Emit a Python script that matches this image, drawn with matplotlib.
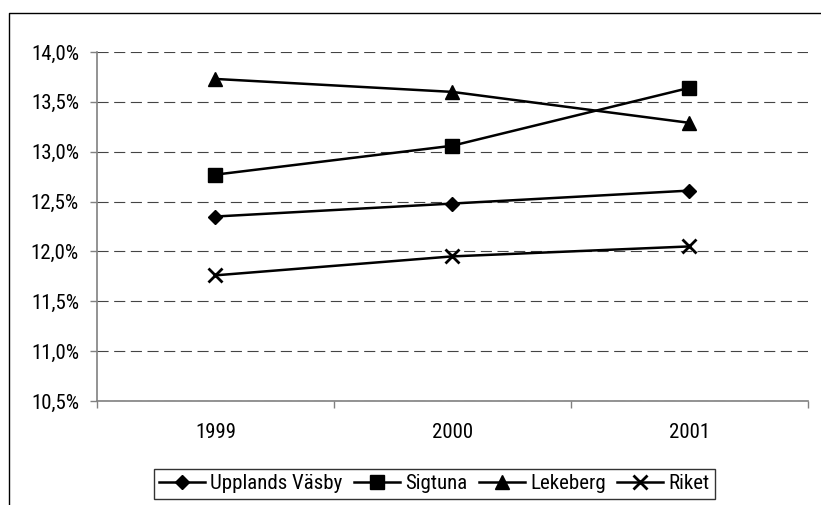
import matplotlib
matplotlib.use("Agg")
import matplotlib.pyplot as plt
from matplotlib import font_manager as fm
from matplotlib.lines import Line2D
from matplotlib.ticker import FuncFormatter, FixedLocator

# narrow font like the original; take the first one installed
available = {f.name for f in fm.fontManager.ttflist}
narrow = [n for n in ['Liberation Sans Narrow', 'Roboto Condensed', 'Archivo Narrow',
                      'Asap Condensed', 'Barlow Semi Condensed'] if n in available]
plt.rcParams['font.family'] = narrow[:1] + ['DejaVu Sans']

years = ['1999', '2000', '2001']
upplands_vasby = [12.35, 12.48, 12.61]
sigtuna = [12.77, 13.06, 13.64]
lekeberg = [13.73, 13.60, 13.29]
riket = [11.76, 11.95, 12.05]

series = [
    ('Upplands Väsby', upplands_vasby, 'D', 7.5),
    ('Sigtuna', sigtuna, 's', 10.5),
    ('Lekeberg', lekeberg, '^', 10.5),
    ('Riket', riket, 'x', 9.5),
]

FS = 15

fig = plt.figure(figsize=(8.21, 5.05), dpi=100)
ax = fig.add_axes([0.1181, 0.206, 0.8655, 0.691])

xs = list(range(1, len(years) + 1))
for name, vals, mk, ms in series:
    ax.plot(xs, vals, color='black', lw=1.8, marker=mk, ms=ms,
            mec='black', mfc='black', mew=2 if mk == 'x' else 1, label=name)

ax.set_xlim(0.5, len(years) + 0.5)
ax.set_ylim(10.5, 14.0)
ax.set_yticks([10.5 + 0.5 * i for i in range(8)])
ax.yaxis.set_major_formatter(FuncFormatter(lambda v, p: f'{v:.1f}%'.replace('.', ',')))
ax.yaxis.grid(True, color='#444444', lw=0.8, linestyle=(0, (10, 5)))
ax.set_axisbelow(True)

ax.xaxis.set_major_locator(FixedLocator([0.5 + i for i in range(len(years) + 1)]))
ax.xaxis.set_major_formatter(FuncFormatter(lambda v, p: ''))
ax.xaxis.set_minor_locator(FixedLocator(xs))
ax.set_xticklabels(years, minor=True)
ax.tick_params(axis='x', which='minor', length=0, pad=16, labelsize=FS)
ax.tick_params(axis='x', which='major', length=5, width=1, color='#808080', direction='out')
ax.tick_params(axis='y', length=5, width=1, color='#808080', direction='out', pad=8, labelsize=FS)

for s in ['top', 'right']:
    ax.spines[s].set_visible(False)
for s in ['left', 'bottom']:
    ax.spines[s].set_color('#808080')
    ax.spines[s].set_linewidth(1.2)

# outer chart border
fig.add_artist(Line2D([9 / 821, 9 / 821, 1.01], [-0.01, 1 - 13 / 505, 1 - 13 / 505],
                      transform=fig.transFigure, color='black', lw=1))

leg = fig.legend(loc='center', bbox_to_anchor=(0.529, 0.0416), ncol=4, frameon=True,
                 fancybox=False, edgecolor='black', fontsize=FS, handlelength=2.2,
                 handletextpad=0.25, columnspacing=0.55, borderpad=0.25, borderaxespad=0)
leg.get_frame().set_linewidth(1)

fig.savefig('out.png', dpi=100)
